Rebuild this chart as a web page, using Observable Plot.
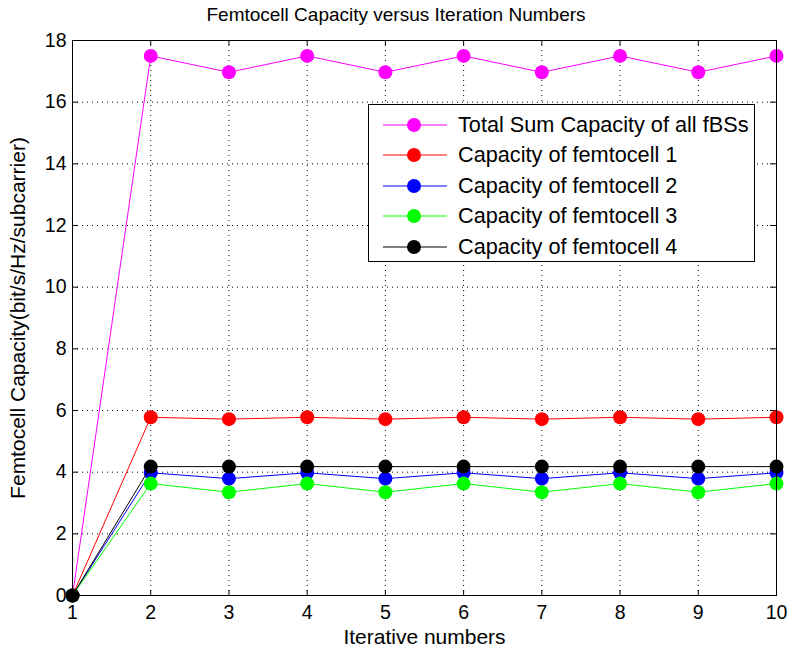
<!DOCTYPE html>
<html>
<head>
<meta charset="utf-8">
<script src="https://cdn.jsdelivr.net/npm/d3@7"></script>
<script src="https://cdn.jsdelivr.net/npm/@observablehq/plot@0.6"></script>
<style>
  body { margin: 0; background: #fff; font-family: "Liberation Sans", Arial, sans-serif; }
  #wrap { position: relative; width: 792px; height: 657px; }
  #title { position: absolute; left: 0; top: 4px; width: 792px; text-align: center; font-size: 19px; color: #000; }
  #legend { position: absolute; left: 368px; top: 104px; width: 385px; height: 156px;
            border: 1px solid #000; background: #fff; box-sizing: content-box; }
  .row { position: absolute; left: 0; height: 31px; display: flex; align-items: center; }
  .row span { font-size: 21.7px; color: #000; margin-left: 9px; white-space: nowrap; }
</style>
</head>
<body>
<div id="wrap"><div id="title">Femtocell Capacity versus Iteration Numbers</div><div id="legend"></div></div>
<script>
const iterations = [1, 2, 3, 4, 5, 6, 7, 8, 9, 10];
const totalSum = [0, 17.5, 16.97, 17.5, 16.97, 17.5, 16.97, 17.5, 16.97, 17.5];
const femto1 = [0, 5.78, 5.72, 5.78, 5.72, 5.78, 5.72, 5.78, 5.72, 5.78];
const femto2 = [0, 3.98, 3.79, 3.98, 3.79, 3.98, 3.79, 3.98, 3.79, 3.98];
const femto3 = [0, 3.63, 3.35, 3.63, 3.35, 3.63, 3.35, 3.63, 3.35, 3.63];
const femto4 = [0, 4.18, 4.18, 4.18, 4.18, 4.18, 4.18, 4.18, 4.18, 4.18];
const seriesNames = ["Total Sum Capacity of all fBSs", "Capacity of femtocell 1", "Capacity of femtocell 2", "Capacity of femtocell 3", "Capacity of femtocell 4"];
const seriesColors = ["#ff00ff", "#ff0000", "#0000ff", "#00ff00", "#000000"];
const xTicks = [1, 2, 3, 4, 5, 6, 7, 8, 9, 10];
const yTicks = [0, 2, 4, 6, 8, 10, 12, 14, 16, 18];
const xLabel = "Iterative numbers";
const yLabel = "Femtocell Capacity(bit/s/Hz/subcarrier)";

const seriesValues = [totalSum, femto1, femto2, femto3, femto4];
const data = [];
seriesValues.forEach((vals, s) => vals.forEach((v, i) => data.push({series: seriesNames[s], x: iterations[i], y: v})));

const lineMarks = seriesNames.map((name, s) => [
  Plot.line(data.filter(d => d.series === name), {x: "x", y: "y", stroke: seriesColors[s], strokeWidth: 1}),
  Plot.dot(data.filter(d => d.series === name), {x: "x", y: "y", fill: seriesColors[s], r: 7, stroke: "none"})
]).flat();

const chart = Plot.plot({
  width: 792,
  height: 657,
  marginLeft: 72,
  marginRight: 16,
  marginTop: 40,
  marginBottom: 62,
  style: {fontFamily: "Liberation Sans, Arial, sans-serif", fontSize: "19px", color: "#000", background: "#fff"},
  x: {domain: [1, 10], ticks: xTicks},
  y: {domain: [0, 18], ticks: yTicks},
  marks: [
    Plot.gridX(xTicks, {stroke: "#000", strokeOpacity: 1, strokeDasharray: "1,4", strokeWidth: 1}),
    Plot.gridY(yTicks, {stroke: "#000", strokeOpacity: 1, strokeDasharray: "1,4", strokeWidth: 1}),
    Plot.axisX(xTicks, {anchor: "bottom", tickSize: 0, tickPadding: 10, fontSize: 19.5, label: null}),
    Plot.axisY(yTicks, {anchor: "left", tickSize: 0, tickPadding: 6, fontSize: 19.5, label: null}),
    Plot.tickX(xTicks, {x: d => d, insetTop: 550, stroke: "#000"}),
    Plot.tickX(xTicks, {x: d => d, insetBottom: 550, stroke: "#000"}),
    Plot.tickY(yTicks, {y: d => d, insetRight: 698, stroke: "#000"}),
    Plot.tickY(yTicks, {y: d => d, insetLeft: 698, stroke: "#000"}),
    ...lineMarks,
    Plot.frame({stroke: "#000", strokeWidth: 1}),
    Plot.text([xLabel], {frameAnchor: "bottom", dy: 42, fontSize: 21, fill: "#000", lineAnchor: "middle"}),
    Plot.text([yLabel], {frameAnchor: "left", dx: -54, rotate: -90, textAnchor: "middle", fontSize: 21, fill: "#000"})
  ]
});
document.getElementById("wrap").prepend(chart);

const legend = document.getElementById("legend");
seriesNames.forEach((name, s) => {
  const row = document.createElement("div");
  row.className = "row";
  row.style.top = (4 + s * 30.6) + "px";
  row.innerHTML = `<svg width="68" height="20" style="margin-left:12px"><line x1="2" x2="66" y1="10" y2="10" stroke="${seriesColors[s]}" stroke-width="1"/><circle cx="33" cy="10" r="7" fill="${seriesColors[s]}"/></svg><span>${name}</span>`;
  legend.appendChild(row);
});
</script>
</body>
</html>
